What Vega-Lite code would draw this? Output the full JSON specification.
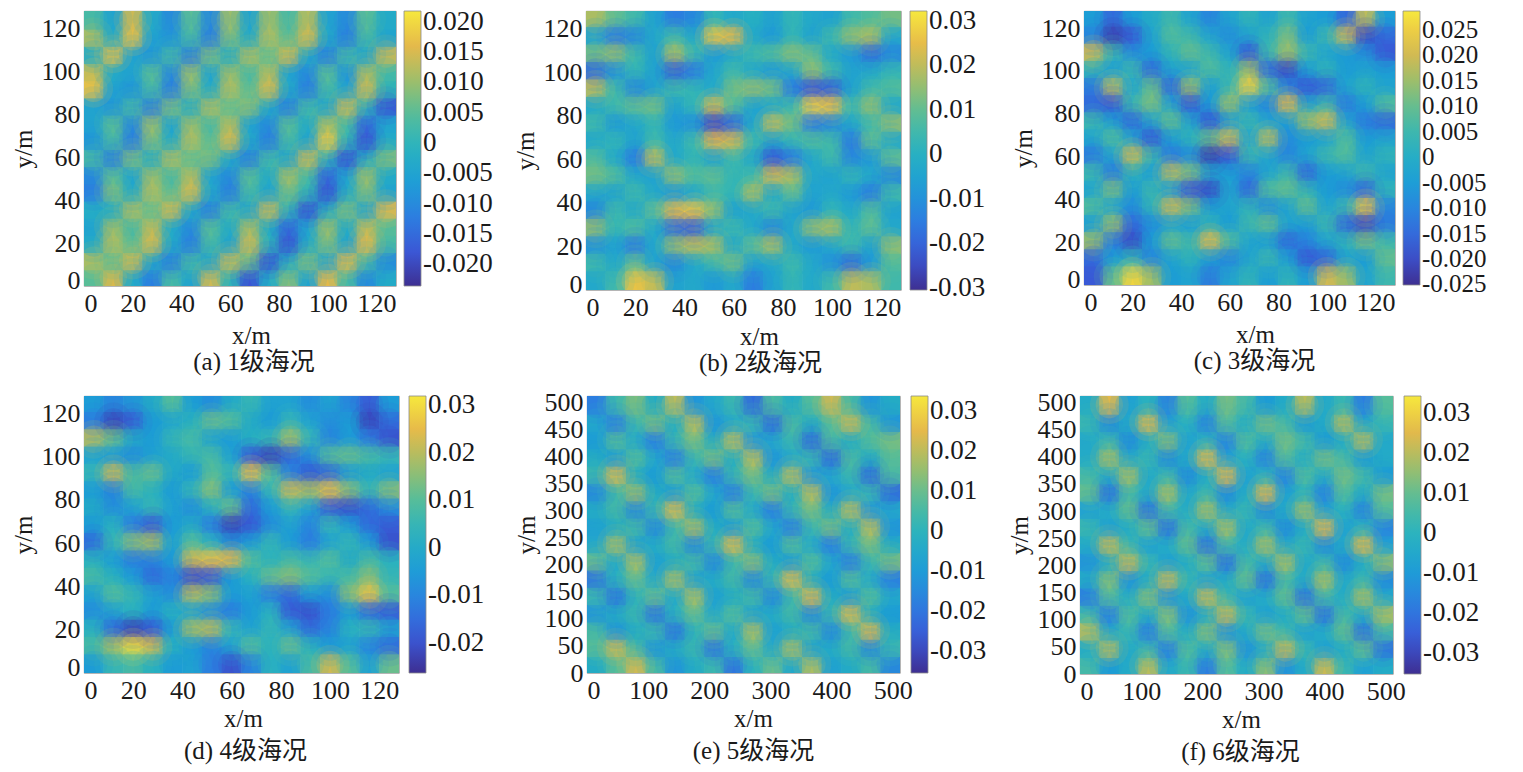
{
  "$schema": "https://vega.github.io/schema/vega-lite/v6.json",
  "background": "white",
  "padding": {"left": 10, "top": 10, "right": 5, "bottom": 2},
  "config": {
    "view": {"stroke": "#8a8a8a", "strokeWidth": 0.8},
    "axis": {"domain": false, "ticks": false, "grid": false, "labelFont": "Liberation Serif", "labelFontSize": 26, "labelColor": "#1a1a1a", "labelPadding": 4, "labelOverlap": false, "labelFlush": true, "titleFont": "Liberation Serif", "titleFontSize": 25, "titleFontWeight": "normal", "titleColor": "#1a1a1a"},
    "axisY": {"titlePadding": 5, "labelFlushOffset": 7},
    "legend": {"gradientThickness": 17, "labelFont": "Liberation Serif", "labelFontSize": 27, "labelColor": "#1a1a1a", "labelOffset": 4, "labelOverlap": false, "gradientStrokeColor": "#8a8a8a", "gradientStrokeWidth": 0.8, "padding": 0},
    "title": {"font": "Liberation Serif, Noto Sans CJK SC", "fontSize": 25, "fontWeight": "normal", "color": "#1a1a1a", "orient": "bottom", "anchor": "middle", "frame": "group"},
    "square": {"size": 400, "opacity": 1, "strokeWidth": 0},
    "circle": {"strokeWidth": 0}
  },
  "datasets": {
    "a": [
{"x":4,"y":4,"v":0.005},{"x":12,"y":4,"v":0.015},{"x":20,"y":4,"v":-0.003},{"x":28,"y":4,"v":-0.012},{"x":36,"y":4,"v":0.003},{"x":44,"y":4,"v":-0.005},{"x":52,"y":4,"v":0.014},{"x":60,"y":4,"v":0},{"x":68,"y":4,"v":-0.018},{"x":76,"y":4,"v":-0.003},{"x":84,"y":4,"v":0.008},{"x":92,"y":4,"v":-0.005},{"x":100,"y":4,"v":0.016},{"x":108,"y":4,"v":0.003},{"x":116,"y":4,"v":-0.01},{"x":124,"y":4,"v":-0.003},
{"x":4,"y":12,"v":0.012},{"x":12,"y":12,"v":0.005},{"x":20,"y":12,"v":0.015},{"x":28,"y":12,"v":-0.003},{"x":36,"y":12,"v":-0.012},{"x":44,"y":12,"v":0.003},{"x":52,"y":12,"v":-0.005},{"x":60,"y":12,"v":0.014},{"x":68,"y":12,"v":0.006},{"x":76,"y":12,"v":-0.018},{"x":84,"y":12,"v":-0.003},{"x":92,"y":12,"v":0.008},{"x":100,"y":12,"v":-0.005},{"x":108,"y":12,"v":0.016},{"x":116,"y":12,"v":0.003},{"x":124,"y":12,"v":-0.01},
{"x":4,"y":20,"v":-0.003},{"x":12,"y":20,"v":0.012},{"x":20,"y":20,"v":0.005},{"x":28,"y":20,"v":0.015},{"x":36,"y":20,"v":-0.003},{"x":44,"y":20,"v":-0.012},{"x":52,"y":20,"v":0.003},{"x":60,"y":20,"v":-0.005},{"x":68,"y":20,"v":0.014},{"x":76,"y":20,"v":0},{"x":84,"y":20,"v":-0.018},{"x":92,"y":20,"v":-0.003},{"x":100,"y":20,"v":0.008},{"x":108,"y":20,"v":-0.005},{"x":116,"y":20,"v":0.016},{"x":124,"y":20,"v":0.003},
{"x":4,"y":28,"v":-0.005},{"x":12,"y":28,"v":0.01},{"x":20,"y":28,"v":0.003},{"x":28,"y":28,"v":0.013},{"x":36,"y":28,"v":-0.003},{"x":44,"y":28,"v":-0.01},{"x":52,"y":28,"v":0.005},{"x":60,"y":28,"v":-0.003},{"x":68,"y":28,"v":0.011},{"x":76,"y":28,"v":-0.003},{"x":84,"y":28,"v":-0.015},{"x":92,"y":28,"v":-0.005},{"x":100,"y":28,"v":0.01},{"x":108,"y":28,"v":-0.003},{"x":116,"y":28,"v":0.013},{"x":124,"y":28,"v":0.005},
{"x":4,"y":36,"v":-0.002},{"x":12,"y":36,"v":-0.003},{"x":20,"y":36,"v":0.012},{"x":28,"y":36,"v":0.005},{"x":36,"y":36,"v":0.015},{"x":44,"y":36,"v":-0.003},{"x":52,"y":36,"v":-0.012},{"x":60,"y":36,"v":0.003},{"x":68,"y":36,"v":-0.005},{"x":76,"y":36,"v":0.014},{"x":84,"y":36,"v":0},{"x":92,"y":36,"v":-0.018},{"x":100,"y":36,"v":-0.003},{"x":108,"y":36,"v":0.008},{"x":116,"y":36,"v":-0.005},{"x":124,"y":36,"v":0.016},
{"x":4,"y":44,"v":-0.012},{"x":12,"y":44,"v":0.008},{"x":20,"y":44,"v":-0.003},{"x":28,"y":44,"v":0.012},{"x":36,"y":44,"v":0.005},{"x":44,"y":44,"v":0.015},{"x":52,"y":44,"v":-0.003},{"x":60,"y":44,"v":-0.012},{"x":68,"y":44,"v":0.003},{"x":76,"y":44,"v":-0.005},{"x":84,"y":44,"v":0.007},{"x":92,"y":44,"v":0},{"x":100,"y":44,"v":-0.018},{"x":108,"y":44,"v":-0.003},{"x":116,"y":44,"v":0.008},{"x":124,"y":44,"v":-0.005},
{"x":4,"y":52,"v":-0.01},{"x":12,"y":52,"v":0.005},{"x":20,"y":52,"v":-0.005},{"x":28,"y":52,"v":0.01},{"x":36,"y":52,"v":0.003},{"x":44,"y":52,"v":0.012},{"x":52,"y":52,"v":-0.005},{"x":60,"y":52,"v":-0.01},{"x":68,"y":52,"v":0.005},{"x":76,"y":52,"v":-0.003},{"x":84,"y":52,"v":0.011},{"x":92,"y":52,"v":0.003},{"x":100,"y":52,"v":-0.015},{"x":108,"y":52,"v":-0.005},{"x":116,"y":52,"v":0.01},{"x":124,"y":52,"v":-0.003},
{"x":4,"y":60,"v":0.003},{"x":12,"y":60,"v":-0.012},{"x":20,"y":60,"v":0.008},{"x":28,"y":60,"v":-0.003},{"x":36,"y":60,"v":0.012},{"x":44,"y":60,"v":0.005},{"x":52,"y":60,"v":0.008},{"x":60,"y":60,"v":-0.003},{"x":68,"y":60,"v":-0.012},{"x":76,"y":60,"v":0.003},{"x":84,"y":60,"v":-0.005},{"x":92,"y":60,"v":0.014},{"x":100,"y":60,"v":0},{"x":108,"y":60,"v":-0.018},{"x":116,"y":60,"v":-0.003},{"x":124,"y":60,"v":0.008},
{"x":4,"y":68,"v":-0.008},{"x":12,"y":68,"v":0.003},{"x":20,"y":68,"v":-0.012},{"x":28,"y":68,"v":0.008},{"x":36,"y":68,"v":-0.003},{"x":44,"y":68,"v":0.012},{"x":52,"y":68,"v":0.005},{"x":60,"y":68,"v":0.015},{"x":68,"y":68,"v":-0.003},{"x":76,"y":68,"v":-0.012},{"x":84,"y":68,"v":0.003},{"x":92,"y":68,"v":-0.005},{"x":100,"y":68,"v":0.018},{"x":108,"y":68,"v":0},{"x":116,"y":68,"v":-0.018},{"x":124,"y":68,"v":-0.003},
{"x":4,"y":76,"v":-0.005},{"x":12,"y":76,"v":0.005},{"x":20,"y":76,"v":-0.01},{"x":28,"y":76,"v":0.01},{"x":36,"y":76,"v":-0.005},{"x":44,"y":76,"v":0.01},{"x":52,"y":76,"v":0.003},{"x":60,"y":76,"v":0.012},{"x":68,"y":76,"v":-0.005},{"x":76,"y":76,"v":-0.01},{"x":84,"y":76,"v":0.005},{"x":92,"y":76,"v":-0.003},{"x":100,"y":76,"v":0.011},{"x":108,"y":76,"v":0.003},{"x":116,"y":76,"v":-0.015},{"x":124,"y":76,"v":-0.005},
{"x":4,"y":84,"v":-0.005},{"x":12,"y":84,"v":-0.008},{"x":20,"y":84,"v":0.003},{"x":28,"y":84,"v":-0.012},{"x":36,"y":84,"v":0.008},{"x":44,"y":84,"v":-0.003},{"x":52,"y":84,"v":0.012},{"x":60,"y":84,"v":0.005},{"x":68,"y":84,"v":0.009},{"x":76,"y":84,"v":-0.003},{"x":84,"y":84,"v":-0.012},{"x":92,"y":84,"v":0.003},{"x":100,"y":84,"v":-0.005},{"x":108,"y":84,"v":0.014},{"x":116,"y":84,"v":0},{"x":124,"y":84,"v":-0.018},
{"x":4,"y":92,"v":0.017},{"x":12,"y":92,"v":-0.005},{"x":20,"y":92,"v":-0.008},{"x":28,"y":92,"v":0.003},{"x":36,"y":92,"v":-0.012},{"x":44,"y":92,"v":0.008},{"x":52,"y":92,"v":-0.003},{"x":60,"y":92,"v":0.012},{"x":68,"y":92,"v":0.005},{"x":76,"y":92,"v":0.015},{"x":84,"y":92,"v":-0.003},{"x":92,"y":92,"v":-0.012},{"x":100,"y":92,"v":0.003},{"x":108,"y":92,"v":-0.005},{"x":116,"y":92,"v":0.014},{"x":124,"y":92,"v":0},
{"x":4,"y":100,"v":0.013},{"x":12,"y":100,"v":-0.003},{"x":20,"y":100,"v":-0.005},{"x":28,"y":100,"v":0.005},{"x":36,"y":100,"v":-0.01},{"x":44,"y":100,"v":0.01},{"x":52,"y":100,"v":-0.005},{"x":60,"y":100,"v":0.01},{"x":68,"y":100,"v":0.003},{"x":76,"y":100,"v":0.012},{"x":84,"y":100,"v":-0.005},{"x":92,"y":100,"v":-0.01},{"x":100,"y":100,"v":0.005},{"x":108,"y":100,"v":-0.008},{"x":116,"y":100,"v":0.011},{"x":124,"y":100,"v":0.003},
{"x":4,"y":108,"v":-0.003},{"x":12,"y":108,"v":0.017},{"x":20,"y":108,"v":-0.005},{"x":28,"y":108,"v":-0.008},{"x":36,"y":108,"v":0.003},{"x":44,"y":108,"v":-0.012},{"x":52,"y":108,"v":0.008},{"x":60,"y":108,"v":-0.003},{"x":68,"y":108,"v":0.012},{"x":76,"y":108,"v":0.005},{"x":84,"y":108,"v":0.015},{"x":92,"y":108,"v":-0.003},{"x":100,"y":108,"v":-0.012},{"x":108,"y":108,"v":0.003},{"x":116,"y":108,"v":-0.005},{"x":124,"y":108,"v":0.014},
{"x":4,"y":116,"v":0.012},{"x":12,"y":116,"v":-0.003},{"x":20,"y":116,"v":0.017},{"x":28,"y":116,"v":-0.005},{"x":36,"y":116,"v":-0.008},{"x":44,"y":116,"v":0.003},{"x":52,"y":116,"v":-0.012},{"x":60,"y":116,"v":0.008},{"x":68,"y":116,"v":-0.003},{"x":76,"y":116,"v":0.012},{"x":84,"y":116,"v":0.005},{"x":92,"y":116,"v":0.015},{"x":100,"y":116,"v":-0.003},{"x":108,"y":116,"v":-0.012},{"x":116,"y":116,"v":0.003},{"x":124,"y":116,"v":-0.005},
{"x":4,"y":124,"v":0.003},{"x":12,"y":124,"v":-0.005},{"x":20,"y":124,"v":0.014},{"x":28,"y":124,"v":-0.003},{"x":36,"y":124,"v":-0.01},{"x":44,"y":124,"v":0.005},{"x":52,"y":124,"v":-0.01},{"x":60,"y":124,"v":0.01},{"x":68,"y":124,"v":-0.005},{"x":76,"y":124,"v":0.01},{"x":84,"y":124,"v":0.003},{"x":92,"y":124,"v":0.012},{"x":100,"y":124,"v":-0.005},{"x":108,"y":124,"v":-0.01},{"x":116,"y":124,"v":0.005},{"x":124,"y":124,"v":-0.003}
    ],
    "b": [
{"x":4,"y":124,"v":0.018},{"x":12,"y":124,"v":0.01},{"x":20,"y":124,"v":0.005},{"x":28,"y":124,"v":-0.005},{"x":36,"y":124,"v":-0.015},{"x":44,"y":124,"v":-0.012},{"x":52,"y":124,"v":0.003},{"x":60,"y":124,"v":-0.003},{"x":68,"y":124,"v":0},{"x":76,"y":124,"v":-0.005},{"x":84,"y":124,"v":0.003},{"x":92,"y":124,"v":-0.003},{"x":100,"y":124,"v":-0.005},{"x":108,"y":124,"v":0.005},{"x":116,"y":124,"v":0.008},{"x":124,"y":124,"v":0.012},
{"x":4,"y":116,"v":-0.005},{"x":12,"y":116,"v":-0.015},{"x":20,"y":116,"v":-0.012},{"x":28,"y":116,"v":-0.003},{"x":36,"y":116,"v":0.005},{"x":44,"y":116,"v":-0.003},{"x":52,"y":116,"v":0.026},{"x":60,"y":116,"v":0.024},{"x":68,"y":116,"v":-0.003},{"x":76,"y":116,"v":-0.008},{"x":84,"y":116,"v":0.003},{"x":92,"y":116,"v":-0.005},{"x":100,"y":116,"v":0.005},{"x":108,"y":116,"v":0.015},{"x":116,"y":116,"v":0.018},{"x":124,"y":116,"v":-0.003},
{"x":4,"y":108,"v":0.012},{"x":12,"y":108,"v":0.015},{"x":20,"y":108,"v":0.005},{"x":28,"y":108,"v":-0.005},{"x":36,"y":108,"v":0.018},{"x":44,"y":108,"v":0.005},{"x":52,"y":108,"v":-0.008},{"x":60,"y":108,"v":-0.003},{"x":68,"y":108,"v":0.005},{"x":76,"y":108,"v":0.008},{"x":84,"y":108,"v":0.014},{"x":92,"y":108,"v":0.01},{"x":100,"y":108,"v":-0.003},{"x":108,"y":108,"v":-0.008},{"x":116,"y":108,"v":-0.018},{"x":124,"y":108,"v":-0.012},
{"x":4,"y":100,"v":-0.018},{"x":12,"y":100,"v":-0.01},{"x":20,"y":100,"v":0.003},{"x":28,"y":100,"v":-0.005},{"x":36,"y":100,"v":-0.02},{"x":44,"y":100,"v":-0.015},{"x":52,"y":100,"v":-0.003},{"x":60,"y":100,"v":0.005},{"x":68,"y":100,"v":-0.003},{"x":76,"y":100,"v":-0.008},{"x":84,"y":100,"v":-0.003},{"x":92,"y":100,"v":0.015},{"x":100,"y":100,"v":0.005},{"x":108,"y":100,"v":-0.005},{"x":116,"y":100,"v":-0.003},{"x":124,"y":100,"v":0.003},
{"x":4,"y":92,"v":0.02},{"x":12,"y":92,"v":0.005},{"x":20,"y":92,"v":-0.012},{"x":28,"y":92,"v":-0.005},{"x":36,"y":92,"v":0.005},{"x":44,"y":92,"v":0.003},{"x":52,"y":92,"v":-0.003},{"x":60,"y":92,"v":0.012},{"x":68,"y":92,"v":0.015},{"x":76,"y":92,"v":0.012},{"x":84,"y":92,"v":-0.015},{"x":92,"y":92,"v":-0.022},{"x":100,"y":92,"v":-0.02},{"x":108,"y":92,"v":-0.005},{"x":116,"y":92,"v":0.005},{"x":124,"y":92,"v":0.008},
{"x":4,"y":84,"v":-0.003},{"x":12,"y":84,"v":0.005},{"x":20,"y":84,"v":0.01},{"x":28,"y":84,"v":0.012},{"x":36,"y":84,"v":-0.005},{"x":44,"y":84,"v":0.003},{"x":52,"y":84,"v":0.022},{"x":60,"y":84,"v":0.008},{"x":68,"y":84,"v":-0.005},{"x":76,"y":84,"v":-0.003},{"x":84,"y":84,"v":0.005},{"x":92,"y":84,"v":0.028},{"x":100,"y":84,"v":0.026},{"x":108,"y":84,"v":0.005},{"x":116,"y":84,"v":0.015},{"x":124,"y":84,"v":-0.003},
{"x":4,"y":76,"v":0.005},{"x":12,"y":76,"v":-0.008},{"x":20,"y":76,"v":-0.003},{"x":28,"y":76,"v":0.003},{"x":36,"y":76,"v":-0.008},{"x":44,"y":76,"v":-0.01},{"x":52,"y":76,"v":-0.024},{"x":60,"y":76,"v":-0.018},{"x":68,"y":76,"v":-0.003},{"x":76,"y":76,"v":0.02},{"x":84,"y":76,"v":0.012},{"x":92,"y":76,"v":-0.015},{"x":100,"y":76,"v":-0.012},{"x":108,"y":76,"v":-0.003},{"x":116,"y":76,"v":0.005},{"x":124,"y":76,"v":0.015},
{"x":4,"y":68,"v":-0.003},{"x":12,"y":68,"v":0.003},{"x":20,"y":68,"v":-0.005},{"x":28,"y":68,"v":0.005},{"x":36,"y":68,"v":-0.003},{"x":44,"y":68,"v":0.005},{"x":52,"y":68,"v":0.024},{"x":60,"y":68,"v":0.022},{"x":68,"y":68,"v":0.005},{"x":76,"y":68,"v":-0.005},{"x":84,"y":68,"v":0.003},{"x":92,"y":68,"v":0.008},{"x":100,"y":68,"v":0.005},{"x":108,"y":68,"v":-0.015},{"x":116,"y":68,"v":0.01},{"x":124,"y":68,"v":-0.003},
{"x":4,"y":60,"v":0.008},{"x":12,"y":60,"v":-0.003},{"x":20,"y":60,"v":-0.015},{"x":28,"y":60,"v":0.02},{"x":36,"y":60,"v":-0.003},{"x":44,"y":60,"v":0.003},{"x":52,"y":60,"v":-0.005},{"x":60,"y":60,"v":0.005},{"x":68,"y":60,"v":-0.003},{"x":76,"y":60,"v":-0.022},{"x":84,"y":60,"v":-0.015},{"x":92,"y":60,"v":-0.003},{"x":100,"y":60,"v":0.005},{"x":108,"y":60,"v":-0.012},{"x":116,"y":60,"v":-0.008},{"x":124,"y":60,"v":0.01},
{"x":4,"y":52,"v":0.012},{"x":12,"y":52,"v":0.008},{"x":20,"y":52,"v":-0.003},{"x":28,"y":52,"v":-0.005},{"x":36,"y":52,"v":0.015},{"x":44,"y":52,"v":0.008},{"x":52,"y":52,"v":0.01},{"x":60,"y":52,"v":0.003},{"x":68,"y":52,"v":0.005},{"x":76,"y":52,"v":0.022},{"x":84,"y":52,"v":0.018},{"x":92,"y":52,"v":-0.003},{"x":100,"y":52,"v":-0.005},{"x":108,"y":52,"v":0.003},{"x":116,"y":52,"v":-0.003},{"x":124,"y":52,"v":-0.012},
{"x":4,"y":44,"v":-0.003},{"x":12,"y":44,"v":-0.005},{"x":20,"y":44,"v":0.005},{"x":28,"y":44,"v":-0.003},{"x":36,"y":44,"v":-0.008},{"x":44,"y":44,"v":-0.003},{"x":52,"y":44,"v":0.005},{"x":60,"y":44,"v":0.003},{"x":68,"y":44,"v":0.018},{"x":76,"y":44,"v":-0.003},{"x":84,"y":44,"v":0.01},{"x":92,"y":44,"v":-0.005},{"x":100,"y":44,"v":-0.003},{"x":108,"y":44,"v":-0.008},{"x":116,"y":44,"v":-0.015},{"x":124,"y":44,"v":0.005},
{"x":4,"y":36,"v":-0.012},{"x":12,"y":36,"v":0.005},{"x":20,"y":36,"v":-0.003},{"x":28,"y":36,"v":0.01},{"x":36,"y":36,"v":0.024},{"x":44,"y":36,"v":0.026},{"x":52,"y":36,"v":0.015},{"x":60,"y":36,"v":-0.005},{"x":68,"y":36,"v":-0.003},{"x":76,"y":36,"v":0.005},{"x":84,"y":36,"v":-0.005},{"x":92,"y":36,"v":-0.008},{"x":100,"y":36,"v":0.003},{"x":108,"y":36,"v":-0.003},{"x":116,"y":36,"v":0.008},{"x":124,"y":36,"v":-0.005},
{"x":4,"y":28,"v":0.015},{"x":12,"y":28,"v":0.003},{"x":20,"y":28,"v":0.008},{"x":28,"y":28,"v":-0.003},{"x":36,"y":28,"v":-0.018},{"x":44,"y":28,"v":-0.02},{"x":52,"y":28,"v":-0.003},{"x":60,"y":28,"v":0.005},{"x":68,"y":28,"v":-0.003},{"x":76,"y":28,"v":-0.012},{"x":84,"y":28,"v":-0.003},{"x":92,"y":28,"v":0.015},{"x":100,"y":28,"v":0.018},{"x":108,"y":28,"v":0.003},{"x":116,"y":28,"v":0.01},{"x":124,"y":28,"v":-0.003},
{"x":4,"y":20,"v":-0.01},{"x":12,"y":20,"v":-0.005},{"x":20,"y":20,"v":-0.015},{"x":28,"y":20,"v":-0.003},{"x":36,"y":20,"v":0.015},{"x":44,"y":20,"v":0.02},{"x":52,"y":20,"v":0.018},{"x":60,"y":20,"v":-0.003},{"x":68,"y":20,"v":0.01},{"x":76,"y":20,"v":0.018},{"x":84,"y":20,"v":-0.003},{"x":92,"y":20,"v":-0.008},{"x":100,"y":20,"v":-0.003},{"x":108,"y":20,"v":0.005},{"x":116,"y":20,"v":-0.005},{"x":124,"y":20,"v":0.015},
{"x":4,"y":12,"v":0.005},{"x":12,"y":12,"v":-0.003},{"x":20,"y":12,"v":0.01},{"x":28,"y":12,"v":-0.005},{"x":36,"y":12,"v":-0.012},{"x":44,"y":12,"v":-0.003},{"x":52,"y":12,"v":0.005},{"x":60,"y":12,"v":0.012},{"x":68,"y":12,"v":-0.005},{"x":76,"y":12,"v":-0.003},{"x":84,"y":12,"v":0.005},{"x":92,"y":12,"v":-0.003},{"x":100,"y":12,"v":-0.01},{"x":108,"y":12,"v":-0.018},{"x":116,"y":12,"v":-0.008},{"x":124,"y":12,"v":0.008},
{"x":4,"y":4,"v":-0.003},{"x":12,"y":4,"v":0.005},{"x":20,"y":4,"v":0.026},{"x":28,"y":4,"v":0.02},{"x":36,"y":4,"v":-0.005},{"x":44,"y":4,"v":-0.003},{"x":52,"y":4,"v":-0.008},{"x":60,"y":4,"v":-0.003},{"x":68,"y":4,"v":-0.015},{"x":76,"y":4,"v":-0.005},{"x":84,"y":4,"v":0.003},{"x":92,"y":4,"v":-0.003},{"x":100,"y":4,"v":0.005},{"x":108,"y":4,"v":0.02},{"x":116,"y":4,"v":0.018},{"x":124,"y":4,"v":0.005}
    ],
    "c": [
{"x":4,"y":124,"v":-0.005},{"x":12,"y":124,"v":-0.015},{"x":20,"y":124,"v":-0.005},{"x":28,"y":124,"v":0},{"x":36,"y":124,"v":0.005},{"x":44,"y":124,"v":-0.003},{"x":52,"y":124,"v":-0.01},{"x":60,"y":124,"v":-0.003},{"x":68,"y":124,"v":0.003},{"x":76,"y":124,"v":-0.003},{"x":84,"y":124,"v":0.005},{"x":92,"y":124,"v":-0.003},{"x":100,"y":124,"v":-0.005},{"x":108,"y":124,"v":-0.015},{"x":116,"y":124,"v":0.018},{"x":124,"y":124,"v":-0.005},
{"x":4,"y":116,"v":-0.01},{"x":12,"y":116,"v":-0.022},{"x":20,"y":116,"v":-0.018},{"x":28,"y":116,"v":-0.003},{"x":36,"y":116,"v":0.008},{"x":44,"y":116,"v":0.005},{"x":52,"y":116,"v":-0.003},{"x":60,"y":116,"v":-0.008},{"x":68,"y":116,"v":-0.003},{"x":76,"y":116,"v":0.003},{"x":84,"y":116,"v":0.012},{"x":92,"y":116,"v":-0.005},{"x":100,"y":116,"v":0.005},{"x":108,"y":116,"v":0.02},{"x":116,"y":116,"v":-0.02},{"x":124,"y":116,"v":-0.015},
{"x":4,"y":108,"v":0.02},{"x":12,"y":108,"v":0.005},{"x":20,"y":108,"v":-0.008},{"x":28,"y":108,"v":-0.005},{"x":36,"y":108,"v":0.003},{"x":44,"y":108,"v":0.01},{"x":52,"y":108,"v":0.005},{"x":60,"y":108,"v":-0.003},{"x":68,"y":108,"v":-0.018},{"x":76,"y":108,"v":0.005},{"x":84,"y":108,"v":0.015},{"x":92,"y":108,"v":0.005},{"x":100,"y":108,"v":-0.003},{"x":108,"y":108,"v":-0.005},{"x":116,"y":108,"v":-0.008},{"x":124,"y":108,"v":-0.018},
{"x":4,"y":100,"v":0.003},{"x":12,"y":100,"v":-0.005},{"x":20,"y":100,"v":0.005},{"x":28,"y":100,"v":-0.015},{"x":36,"y":100,"v":-0.003},{"x":44,"y":100,"v":-0.003},{"x":52,"y":100,"v":0.008},{"x":60,"y":100,"v":0.003},{"x":68,"y":100,"v":0.015},{"x":76,"y":100,"v":-0.015},{"x":84,"y":100,"v":-0.02},{"x":92,"y":100,"v":-0.005},{"x":100,"y":100,"v":0.003},{"x":108,"y":100,"v":-0.005},{"x":116,"y":100,"v":-0.003},{"x":124,"y":100,"v":-0.005},
{"x":4,"y":92,"v":-0.012},{"x":12,"y":92,"v":0.018},{"x":20,"y":92,"v":-0.003},{"x":28,"y":92,"v":0.01},{"x":36,"y":92,"v":-0.015},{"x":44,"y":92,"v":0.015},{"x":52,"y":92,"v":-0.005},{"x":60,"y":92,"v":0.005},{"x":68,"y":92,"v":0.025},{"x":76,"y":92,"v":0.008},{"x":84,"y":92,"v":-0.01},{"x":92,"y":92,"v":-0.018},{"x":100,"y":92,"v":-0.015},{"x":108,"y":92,"v":-0.003},{"x":116,"y":92,"v":0.003},{"x":124,"y":92,"v":-0.003},
{"x":4,"y":84,"v":-0.015},{"x":12,"y":84,"v":-0.018},{"x":20,"y":84,"v":0.005},{"x":28,"y":84,"v":0.012},{"x":36,"y":84,"v":-0.003},{"x":44,"y":84,"v":-0.018},{"x":52,"y":84,"v":-0.005},{"x":60,"y":84,"v":0.015},{"x":68,"y":84,"v":-0.005},{"x":76,"y":84,"v":-0.01},{"x":84,"y":84,"v":0.022},{"x":92,"y":84,"v":-0.003},{"x":100,"y":84,"v":0.005},{"x":108,"y":84,"v":-0.012},{"x":116,"y":84,"v":-0.005},{"x":124,"y":84,"v":0.008},
{"x":4,"y":76,"v":0.005},{"x":12,"y":76,"v":-0.005},{"x":20,"y":76,"v":-0.015},{"x":28,"y":76,"v":-0.003},{"x":36,"y":76,"v":0.01},{"x":44,"y":76,"v":-0.003},{"x":52,"y":76,"v":-0.018},{"x":60,"y":76,"v":-0.005},{"x":68,"y":76,"v":0.005},{"x":76,"y":76,"v":-0.003},{"x":84,"y":76,"v":-0.005},{"x":92,"y":76,"v":0.015},{"x":100,"y":76,"v":0.02},{"x":108,"y":76,"v":-0.003},{"x":116,"y":76,"v":-0.012},{"x":124,"y":76,"v":-0.015},
{"x":4,"y":68,"v":-0.003},{"x":12,"y":68,"v":0.008},{"x":20,"y":68,"v":-0.003},{"x":28,"y":68,"v":-0.018},{"x":36,"y":68,"v":-0.005},{"x":44,"y":68,"v":0.003},{"x":52,"y":68,"v":0.01},{"x":60,"y":68,"v":0.02},{"x":68,"y":68,"v":-0.003},{"x":76,"y":68,"v":0.018},{"x":84,"y":68,"v":-0.008},{"x":92,"y":68,"v":-0.005},{"x":100,"y":68,"v":-0.003},{"x":108,"y":68,"v":0.008},{"x":116,"y":68,"v":-0.005},{"x":124,"y":68,"v":-0.003},
{"x":4,"y":60,"v":-0.012},{"x":12,"y":60,"v":-0.003},{"x":20,"y":60,"v":0.02},{"x":28,"y":60,"v":0.005},{"x":36,"y":60,"v":-0.012},{"x":44,"y":60,"v":-0.008},{"x":52,"y":60,"v":-0.022},{"x":60,"y":60,"v":-0.018},{"x":68,"y":60,"v":0.005},{"x":76,"y":60,"v":-0.003},{"x":84,"y":60,"v":-0.01},{"x":92,"y":60,"v":-0.003},{"x":100,"y":60,"v":0.005},{"x":108,"y":60,"v":0.008},{"x":116,"y":60,"v":-0.003},{"x":124,"y":60,"v":0.003},
{"x":4,"y":52,"v":0.005},{"x":12,"y":52,"v":-0.012},{"x":20,"y":52,"v":0.003},{"x":28,"y":52,"v":-0.005},{"x":36,"y":52,"v":0.018},{"x":44,"y":52,"v":0.012},{"x":52,"y":52,"v":-0.003},{"x":60,"y":52,"v":-0.005},{"x":68,"y":52,"v":-0.01},{"x":76,"y":52,"v":-0.003},{"x":84,"y":52,"v":0.005},{"x":92,"y":52,"v":-0.015},{"x":100,"y":52,"v":-0.005},{"x":108,"y":52,"v":-0.003},{"x":116,"y":52,"v":0.005},{"x":124,"y":52,"v":-0.003},
{"x":4,"y":44,"v":-0.003},{"x":12,"y":44,"v":0.012},{"x":20,"y":44,"v":-0.005},{"x":28,"y":44,"v":0.005},{"x":36,"y":44,"v":-0.005},{"x":44,"y":44,"v":-0.018},{"x":52,"y":44,"v":-0.02},{"x":60,"y":44,"v":-0.003},{"x":68,"y":44,"v":-0.015},{"x":76,"y":44,"v":0.008},{"x":84,"y":44,"v":0.01},{"x":92,"y":44,"v":0.003},{"x":100,"y":44,"v":-0.005},{"x":108,"y":44,"v":-0.008},{"x":116,"y":44,"v":-0.015},{"x":124,"y":44,"v":0.003},
{"x":4,"y":36,"v":0.008},{"x":12,"y":36,"v":-0.003},{"x":20,"y":36,"v":-0.008},{"x":28,"y":36,"v":0.003},{"x":36,"y":36,"v":0.02},{"x":44,"y":36,"v":0.012},{"x":52,"y":36,"v":-0.005},{"x":60,"y":36,"v":-0.003},{"x":68,"y":36,"v":0.003},{"x":76,"y":36,"v":-0.008},{"x":84,"y":36,"v":-0.003},{"x":92,"y":36,"v":0.01},{"x":100,"y":36,"v":-0.003},{"x":108,"y":36,"v":0.005},{"x":116,"y":36,"v":0.024},{"x":124,"y":36,"v":-0.01},
{"x":4,"y":28,"v":-0.005},{"x":12,"y":28,"v":0.015},{"x":20,"y":28,"v":-0.015},{"x":28,"y":28,"v":-0.008},{"x":36,"y":28,"v":-0.003},{"x":44,"y":28,"v":-0.005},{"x":52,"y":28,"v":0.003},{"x":60,"y":28,"v":-0.005},{"x":68,"y":28,"v":0.005},{"x":76,"y":28,"v":0.01},{"x":84,"y":28,"v":-0.003},{"x":92,"y":28,"v":-0.005},{"x":100,"y":28,"v":0.005},{"x":108,"y":28,"v":-0.015},{"x":116,"y":28,"v":-0.02},{"x":124,"y":28,"v":-0.012},
{"x":4,"y":20,"v":0.015},{"x":12,"y":20,"v":-0.012},{"x":20,"y":20,"v":-0.02},{"x":28,"y":20,"v":-0.005},{"x":36,"y":20,"v":0.01},{"x":44,"y":20,"v":0.005},{"x":52,"y":20,"v":0.022},{"x":60,"y":20,"v":0.008},{"x":68,"y":20,"v":-0.003},{"x":76,"y":20,"v":-0.005},{"x":84,"y":20,"v":-0.015},{"x":92,"y":20,"v":-0.01},{"x":100,"y":20,"v":-0.003},{"x":108,"y":20,"v":0.003},{"x":116,"y":20,"v":0.012},{"x":124,"y":20,"v":0.005},
{"x":4,"y":12,"v":-0.015},{"x":12,"y":12,"v":-0.005},{"x":20,"y":12,"v":0.003},{"x":28,"y":12,"v":-0.01},{"x":36,"y":12,"v":-0.003},{"x":44,"y":12,"v":0.003},{"x":52,"y":12,"v":-0.005},{"x":60,"y":12,"v":-0.01},{"x":68,"y":12,"v":-0.003},{"x":76,"y":12,"v":0.005},{"x":84,"y":12,"v":-0.005},{"x":92,"y":12,"v":-0.018},{"x":100,"y":12,"v":-0.015},{"x":108,"y":12,"v":-0.003},{"x":116,"y":12,"v":-0.005},{"x":124,"y":12,"v":0.01},
{"x":4,"y":4,"v":-0.018},{"x":12,"y":4,"v":0.01},{"x":20,"y":4,"v":0.026},{"x":28,"y":4,"v":0.015},{"x":36,"y":4,"v":-0.005},{"x":44,"y":4,"v":-0.003},{"x":52,"y":4,"v":-0.012},{"x":60,"y":4,"v":-0.003},{"x":68,"y":4,"v":0.003},{"x":76,"y":4,"v":-0.005},{"x":84,"y":4,"v":0.003},{"x":92,"y":4,"v":-0.005},{"x":100,"y":4,"v":0.02},{"x":108,"y":4,"v":0.015},{"x":116,"y":4,"v":-0.003},{"x":124,"y":4,"v":0.005}
    ],
    "d": [
{"x":4,"y":124,"v":-0.005},{"x":12,"y":124,"v":-0.01},{"x":20,"y":124,"v":-0.006},{"x":28,"y":124,"v":0},{"x":36,"y":124,"v":0.01},{"x":44,"y":124,"v":-0.004},{"x":52,"y":124,"v":-0.008},{"x":60,"y":124,"v":0},{"x":68,"y":124,"v":0.005},{"x":76,"y":124,"v":-0.003},{"x":84,"y":124,"v":-0.003},{"x":92,"y":124,"v":-0.008},{"x":100,"y":124,"v":-0.003},{"x":108,"y":124,"v":-0.01},{"x":116,"y":124,"v":-0.018},{"x":124,"y":124,"v":-0.005},
{"x":4,"y":116,"v":-0.012},{"x":12,"y":116,"v":-0.022},{"x":20,"y":116,"v":-0.018},{"x":28,"y":116,"v":-0.005},{"x":36,"y":116,"v":-0.002},{"x":44,"y":116,"v":0.003},{"x":52,"y":116,"v":0.012},{"x":60,"y":116,"v":0.01},{"x":68,"y":116,"v":0},{"x":76,"y":116,"v":-0.005},{"x":84,"y":116,"v":0.005},{"x":92,"y":116,"v":-0.003},{"x":100,"y":116,"v":-0.008},{"x":108,"y":116,"v":-0.005},{"x":116,"y":116,"v":-0.022},{"x":124,"y":116,"v":-0.015},
{"x":4,"y":108,"v":0.02},{"x":12,"y":108,"v":0.012},{"x":20,"y":108,"v":0},{"x":28,"y":108,"v":-0.005},{"x":36,"y":108,"v":0.005},{"x":44,"y":108,"v":0.008},{"x":52,"y":108,"v":-0.003},{"x":60,"y":108,"v":-0.005},{"x":68,"y":108,"v":0.002},{"x":76,"y":108,"v":0.005},{"x":84,"y":108,"v":0.018},{"x":92,"y":108,"v":0.005},{"x":100,"y":108,"v":-0.01},{"x":108,"y":108,"v":-0.005},{"x":116,"y":108,"v":-0.012},{"x":124,"y":108,"v":-0.02},
{"x":4,"y":100,"v":-0.003},{"x":12,"y":100,"v":-0.005},{"x":20,"y":100,"v":-0.008},{"x":28,"y":100,"v":-0.003},{"x":36,"y":100,"v":0},{"x":44,"y":100,"v":0.005},{"x":52,"y":100,"v":0.008},{"x":60,"y":100,"v":-0.003},{"x":68,"y":100,"v":-0.018},{"x":76,"y":100,"v":-0.022},{"x":84,"y":100,"v":-0.015},{"x":92,"y":100,"v":-0.008},{"x":100,"y":100,"v":0.01},{"x":108,"y":100,"v":0.012},{"x":116,"y":100,"v":0.008},{"x":124,"y":100,"v":0.005},
{"x":4,"y":92,"v":0.005},{"x":12,"y":92,"v":0.022},{"x":20,"y":92,"v":0.008},{"x":28,"y":92,"v":0.012},{"x":36,"y":92,"v":0},{"x":44,"y":92,"v":-0.005},{"x":52,"y":92,"v":0.01},{"x":60,"y":92,"v":0.005},{"x":68,"y":92,"v":0.026},{"x":76,"y":92,"v":0.01},{"x":84,"y":92,"v":-0.01},{"x":92,"y":92,"v":-0.018},{"x":100,"y":92,"v":-0.015},{"x":108,"y":92,"v":-0.005},{"x":116,"y":92,"v":0},{"x":124,"y":92,"v":-0.003},
{"x":4,"y":84,"v":-0.005},{"x":12,"y":84,"v":-0.01},{"x":20,"y":84,"v":0.008},{"x":28,"y":84,"v":0.003},{"x":36,"y":84,"v":-0.005},{"x":44,"y":84,"v":0.005},{"x":52,"y":84,"v":0.015},{"x":60,"y":84,"v":-0.005},{"x":68,"y":84,"v":-0.01},{"x":76,"y":84,"v":0.005},{"x":84,"y":84,"v":0.022},{"x":92,"y":84,"v":0.018},{"x":100,"y":84,"v":0.026},{"x":108,"y":84,"v":0.015},{"x":116,"y":84,"v":0.005},{"x":124,"y":84,"v":0.015},
{"x":4,"y":76,"v":0},{"x":12,"y":76,"v":-0.008},{"x":20,"y":76,"v":-0.003},{"x":28,"y":76,"v":0.005},{"x":36,"y":76,"v":-0.003},{"x":44,"y":76,"v":-0.008},{"x":52,"y":76,"v":0.003},{"x":60,"y":76,"v":0.012},{"x":68,"y":76,"v":-0.015},{"x":76,"y":76,"v":-0.005},{"x":84,"y":76,"v":0.005},{"x":92,"y":76,"v":-0.003},{"x":100,"y":76,"v":-0.018},{"x":108,"y":76,"v":-0.02},{"x":116,"y":76,"v":-0.015},{"x":124,"y":76,"v":-0.008},
{"x":4,"y":68,"v":-0.005},{"x":12,"y":68,"v":0.003},{"x":20,"y":68,"v":-0.012},{"x":28,"y":68,"v":-0.018},{"x":36,"y":68,"v":-0.005},{"x":44,"y":68,"v":0},{"x":52,"y":68,"v":-0.012},{"x":60,"y":68,"v":-0.022},{"x":68,"y":68,"v":-0.018},{"x":76,"y":68,"v":-0.008},{"x":84,"y":68,"v":-0.003},{"x":92,"y":68,"v":-0.01},{"x":100,"y":68,"v":0.005},{"x":108,"y":68,"v":-0.005},{"x":116,"y":68,"v":-0.015},{"x":124,"y":68,"v":-0.018},
{"x":4,"y":60,"v":-0.015},{"x":12,"y":60,"v":0.005},{"x":20,"y":60,"v":0.015},{"x":28,"y":60,"v":0.018},{"x":36,"y":60,"v":-0.003},{"x":44,"y":60,"v":0.01},{"x":52,"y":60,"v":0.003},{"x":60,"y":60,"v":-0.008},{"x":68,"y":60,"v":-0.005},{"x":76,"y":60,"v":0.005},{"x":84,"y":60,"v":-0.005},{"x":92,"y":60,"v":-0.012},{"x":100,"y":60,"v":-0.003},{"x":108,"y":60,"v":0.005},{"x":116,"y":60,"v":-0.005},{"x":124,"y":60,"v":-0.02},
{"x":4,"y":52,"v":0.003},{"x":12,"y":52,"v":-0.005},{"x":20,"y":52,"v":-0.012},{"x":28,"y":52,"v":-0.01},{"x":36,"y":52,"v":-0.005},{"x":44,"y":52,"v":0.022},{"x":52,"y":52,"v":0.026},{"x":60,"y":52,"v":0.024},{"x":68,"y":52,"v":0.01},{"x":76,"y":52,"v":0.003},{"x":84,"y":52,"v":0.008},{"x":92,"y":52,"v":0.005},{"x":100,"y":52,"v":0.01},{"x":108,"y":52,"v":0},{"x":116,"y":52,"v":0.008},{"x":124,"y":52,"v":0.003},
{"x":4,"y":44,"v":0.008},{"x":12,"y":44,"v":0.003},{"x":20,"y":44,"v":-0.005},{"x":28,"y":44,"v":-0.015},{"x":36,"y":44,"v":-0.01},{"x":44,"y":44,"v":-0.02},{"x":52,"y":44,"v":-0.018},{"x":60,"y":44,"v":-0.005},{"x":68,"y":44,"v":0.003},{"x":76,"y":44,"v":0.012},{"x":84,"y":44,"v":0.015},{"x":92,"y":44,"v":0.01},{"x":100,"y":44,"v":0.005},{"x":108,"y":44,"v":0.008},{"x":116,"y":44,"v":0.015},{"x":124,"y":44,"v":0.005},
{"x":4,"y":36,"v":-0.003},{"x":12,"y":36,"v":0.01},{"x":20,"y":36,"v":0.005},{"x":28,"y":36,"v":-0.003},{"x":36,"y":36,"v":-0.008},{"x":44,"y":36,"v":0.02},{"x":52,"y":36,"v":0.015},{"x":60,"y":36,"v":-0.005},{"x":68,"y":36,"v":-0.003},{"x":76,"y":36,"v":-0.012},{"x":84,"y":36,"v":-0.015},{"x":92,"y":36,"v":-0.005},{"x":100,"y":36,"v":-0.008},{"x":108,"y":36,"v":0.015},{"x":116,"y":36,"v":0.026},{"x":124,"y":36,"v":0.01},
{"x":4,"y":28,"v":-0.008},{"x":12,"y":28,"v":-0.003},{"x":20,"y":28,"v":0.003},{"x":28,"y":28,"v":-0.005},{"x":36,"y":28,"v":0.003},{"x":44,"y":28,"v":-0.003},{"x":52,"y":28,"v":-0.008},{"x":60,"y":28,"v":-0.012},{"x":68,"y":28,"v":-0.005},{"x":76,"y":28,"v":0.003},{"x":84,"y":28,"v":-0.018},{"x":92,"y":28,"v":-0.02},{"x":100,"y":28,"v":-0.012},{"x":108,"y":28,"v":-0.005},{"x":116,"y":28,"v":-0.015},{"x":124,"y":28,"v":-0.018},
{"x":4,"y":20,"v":0.003},{"x":12,"y":20,"v":-0.015},{"x":20,"y":20,"v":-0.022},{"x":28,"y":20,"v":-0.018},{"x":36,"y":20,"v":-0.005},{"x":44,"y":20,"v":0.018},{"x":52,"y":20,"v":0.02},{"x":60,"y":20,"v":0.005},{"x":68,"y":20,"v":-0.003},{"x":76,"y":20,"v":0.005},{"x":84,"y":20,"v":-0.003},{"x":92,"y":20,"v":-0.015},{"x":100,"y":20,"v":-0.01},{"x":108,"y":20,"v":0.003},{"x":116,"y":20,"v":0.005},{"x":124,"y":20,"v":-0.003},
{"x":4,"y":12,"v":0.008},{"x":12,"y":12,"v":0.018},{"x":20,"y":12,"v":0.03},{"x":28,"y":12,"v":0.022},{"x":36,"y":12,"v":0.003},{"x":44,"y":12,"v":-0.005},{"x":52,"y":12,"v":-0.01},{"x":60,"y":12,"v":-0.003},{"x":68,"y":12,"v":0.01},{"x":76,"y":12,"v":0.003},{"x":84,"y":12,"v":0.012},{"x":92,"y":12,"v":0.003},{"x":100,"y":12,"v":-0.005},{"x":108,"y":12,"v":-0.003},{"x":116,"y":12,"v":-0.01},{"x":124,"y":12,"v":-0.015},
{"x":4,"y":4,"v":-0.005},{"x":12,"y":4,"v":0.005},{"x":20,"y":4,"v":0.008},{"x":28,"y":4,"v":0.003},{"x":36,"y":4,"v":-0.005},{"x":44,"y":4,"v":-0.003},{"x":52,"y":4,"v":-0.012},{"x":60,"y":4,"v":-0.02},{"x":68,"y":4,"v":-0.01},{"x":76,"y":4,"v":0.003},{"x":84,"y":4,"v":-0.003},{"x":92,"y":4,"v":0.008},{"x":100,"y":4,"v":0.022},{"x":108,"y":4,"v":0.01},{"x":116,"y":4,"v":-0.003},{"x":124,"y":4,"v":0.012}
    ],
    "e": [
{"x":16,"y":16,"v":-0.003},{"x":48,"y":16,"v":0.008},{"x":80,"y":16,"v":0.022},{"x":112,"y":16,"v":0.005},{"x":144,"y":16,"v":-0.012},{"x":176,"y":16,"v":-0.003},{"x":208,"y":16,"v":0.003},{"x":240,"y":16,"v":-0.02},{"x":272,"y":16,"v":0},{"x":304,"y":16,"v":0.01},{"x":336,"y":16,"v":-0.005},{"x":368,"y":16,"v":0.018},{"x":400,"y":16,"v":-0.008},{"x":432,"y":16,"v":-0.003},{"x":464,"y":16,"v":0.005},{"x":496,"y":16,"v":-0.015},
{"x":16,"y":48,"v":0.008},{"x":48,"y":48,"v":0.022},{"x":80,"y":48,"v":0.005},{"x":112,"y":48,"v":-0.012},{"x":144,"y":48,"v":-0.003},{"x":176,"y":48,"v":0.003},{"x":208,"y":48,"v":-0.02},{"x":240,"y":48,"v":0},{"x":272,"y":48,"v":0.01},{"x":304,"y":48,"v":-0.005},{"x":336,"y":48,"v":0.018},{"x":368,"y":48,"v":-0.008},{"x":400,"y":48,"v":-0.003},{"x":432,"y":48,"v":0.005},{"x":464,"y":48,"v":-0.015},{"x":496,"y":48,"v":0.003},
{"x":16,"y":80,"v":0.005},{"x":48,"y":80,"v":-0.012},{"x":80,"y":80,"v":-0.003},{"x":112,"y":80,"v":0.003},{"x":144,"y":80,"v":-0.02},{"x":176,"y":80,"v":0},{"x":208,"y":80,"v":0.01},{"x":240,"y":80,"v":-0.005},{"x":272,"y":80,"v":0.018},{"x":304,"y":80,"v":-0.008},{"x":336,"y":80,"v":-0.003},{"x":368,"y":80,"v":0.005},{"x":400,"y":80,"v":-0.015},{"x":432,"y":80,"v":0.003},{"x":464,"y":80,"v":0.024},{"x":496,"y":80,"v":-0.003},
{"x":16,"y":112,"v":-0.012},{"x":48,"y":112,"v":-0.003},{"x":80,"y":112,"v":0.003},{"x":112,"y":112,"v":-0.02},{"x":144,"y":112,"v":0},{"x":176,"y":112,"v":0.01},{"x":208,"y":112,"v":-0.005},{"x":240,"y":112,"v":0.008},{"x":272,"y":112,"v":-0.008},{"x":304,"y":112,"v":-0.003},{"x":336,"y":112,"v":0.005},{"x":368,"y":112,"v":-0.015},{"x":400,"y":112,"v":0.003},{"x":432,"y":112,"v":0.024},{"x":464,"y":112,"v":-0.003},{"x":496,"y":112,"v":-0.01},
{"x":16,"y":144,"v":0.003},{"x":48,"y":144,"v":-0.02},{"x":80,"y":144,"v":0},{"x":112,"y":144,"v":0.01},{"x":144,"y":144,"v":-0.005},{"x":176,"y":144,"v":0.018},{"x":208,"y":144,"v":-0.008},{"x":240,"y":144,"v":-0.003},{"x":272,"y":144,"v":0.005},{"x":304,"y":144,"v":-0.015},{"x":336,"y":144,"v":0.003},{"x":368,"y":144,"v":0.024},{"x":400,"y":144,"v":-0.003},{"x":432,"y":144,"v":-0.01},{"x":464,"y":144,"v":0.008},{"x":496,"y":144,"v":-0.005},
{"x":16,"y":176,"v":-0.02},{"x":48,"y":176,"v":0},{"x":80,"y":176,"v":0.01},{"x":112,"y":176,"v":-0.005},{"x":144,"y":176,"v":0.018},{"x":176,"y":176,"v":-0.008},{"x":208,"y":176,"v":-0.003},{"x":240,"y":176,"v":0.005},{"x":272,"y":176,"v":-0.015},{"x":304,"y":176,"v":0.003},{"x":336,"y":176,"v":0.024},{"x":368,"y":176,"v":-0.003},{"x":400,"y":176,"v":-0.01},{"x":432,"y":176,"v":0.008},{"x":464,"y":176,"v":-0.005},{"x":496,"y":176,"v":-0.018},
{"x":16,"y":208,"v":0.01},{"x":48,"y":208,"v":-0.005},{"x":80,"y":208,"v":0.018},{"x":112,"y":208,"v":-0.008},{"x":144,"y":208,"v":-0.003},{"x":176,"y":208,"v":0.005},{"x":208,"y":208,"v":-0.015},{"x":240,"y":208,"v":0.003},{"x":272,"y":208,"v":0.014},{"x":304,"y":208,"v":-0.003},{"x":336,"y":208,"v":-0.01},{"x":368,"y":208,"v":0.008},{"x":400,"y":208,"v":-0.005},{"x":432,"y":208,"v":-0.018},{"x":464,"y":208,"v":0.003},{"x":496,"y":208,"v":0.012},
{"x":16,"y":240,"v":-0.005},{"x":48,"y":240,"v":0.018},{"x":80,"y":240,"v":-0.008},{"x":112,"y":240,"v":-0.003},{"x":144,"y":240,"v":0.005},{"x":176,"y":240,"v":-0.015},{"x":208,"y":240,"v":0.003},{"x":240,"y":240,"v":0.024},{"x":272,"y":240,"v":-0.003},{"x":304,"y":240,"v":-0.01},{"x":336,"y":240,"v":0.008},{"x":368,"y":240,"v":-0.005},{"x":400,"y":240,"v":-0.018},{"x":432,"y":240,"v":0.003},{"x":464,"y":240,"v":0.012},{"x":496,"y":240,"v":-0.003},
{"x":16,"y":272,"v":-0.008},{"x":48,"y":272,"v":-0.003},{"x":80,"y":272,"v":0.005},{"x":112,"y":272,"v":-0.015},{"x":144,"y":272,"v":0.003},{"x":176,"y":272,"v":0.018},{"x":208,"y":272,"v":-0.003},{"x":240,"y":272,"v":-0.01},{"x":272,"y":272,"v":0.008},{"x":304,"y":272,"v":-0.005},{"x":336,"y":272,"v":-0.018},{"x":368,"y":272,"v":0.003},{"x":400,"y":272,"v":0.012},{"x":432,"y":272,"v":-0.003},{"x":464,"y":272,"v":0.02},{"x":496,"y":272,"v":-0.012},
{"x":16,"y":304,"v":-0.003},{"x":48,"y":304,"v":0.005},{"x":80,"y":304,"v":-0.015},{"x":112,"y":304,"v":0.003},{"x":144,"y":304,"v":0.024},{"x":176,"y":304,"v":-0.003},{"x":208,"y":304,"v":-0.01},{"x":240,"y":304,"v":0.008},{"x":272,"y":304,"v":-0.005},{"x":304,"y":304,"v":-0.018},{"x":336,"y":304,"v":0.003},{"x":368,"y":304,"v":0.012},{"x":400,"y":304,"v":-0.003},{"x":432,"y":304,"v":0.02},{"x":464,"y":304,"v":-0.012},{"x":496,"y":304,"v":-0.005},
{"x":16,"y":336,"v":-0.015},{"x":48,"y":336,"v":0.003},{"x":80,"y":336,"v":0.016},{"x":112,"y":336,"v":-0.003},{"x":144,"y":336,"v":-0.01},{"x":176,"y":336,"v":0.008},{"x":208,"y":336,"v":-0.005},{"x":240,"y":336,"v":-0.018},{"x":272,"y":336,"v":0.003},{"x":304,"y":336,"v":0.012},{"x":336,"y":336,"v":-0.003},{"x":368,"y":336,"v":0.02},{"x":400,"y":336,"v":-0.012},{"x":432,"y":336,"v":-0.005},{"x":464,"y":336,"v":0.003},{"x":496,"y":336,"v":-0.022},
{"x":16,"y":368,"v":0.003},{"x":48,"y":368,"v":0.024},{"x":80,"y":368,"v":-0.003},{"x":112,"y":368,"v":-0.01},{"x":144,"y":368,"v":0.008},{"x":176,"y":368,"v":-0.005},{"x":208,"y":368,"v":-0.018},{"x":240,"y":368,"v":0.003},{"x":272,"y":368,"v":0.012},{"x":304,"y":368,"v":-0.003},{"x":336,"y":368,"v":0.02},{"x":368,"y":368,"v":-0.012},{"x":400,"y":368,"v":-0.005},{"x":432,"y":368,"v":0.003},{"x":464,"y":368,"v":-0.022},{"x":496,"y":368,"v":0.006},
{"x":16,"y":400,"v":-0.003},{"x":48,"y":400,"v":-0.01},{"x":80,"y":400,"v":0.008},{"x":112,"y":400,"v":-0.005},{"x":144,"y":400,"v":-0.018},{"x":176,"y":400,"v":0.003},{"x":208,"y":400,"v":0.012},{"x":240,"y":400,"v":-0.003},{"x":272,"y":400,"v":0.02},{"x":304,"y":400,"v":-0.012},{"x":336,"y":400,"v":-0.005},{"x":368,"y":400,"v":0.003},{"x":400,"y":400,"v":-0.022},{"x":432,"y":400,"v":0.006},{"x":464,"y":400,"v":-0.003},{"x":496,"y":400,"v":0.008},
{"x":16,"y":432,"v":-0.01},{"x":48,"y":432,"v":0.008},{"x":80,"y":432,"v":-0.005},{"x":112,"y":432,"v":-0.018},{"x":144,"y":432,"v":0.003},{"x":176,"y":432,"v":0.012},{"x":208,"y":432,"v":-0.003},{"x":240,"y":432,"v":0.02},{"x":272,"y":432,"v":-0.012},{"x":304,"y":432,"v":-0.005},{"x":336,"y":432,"v":0.003},{"x":368,"y":432,"v":-0.022},{"x":400,"y":432,"v":0.006},{"x":432,"y":432,"v":-0.003},{"x":464,"y":432,"v":0.008},{"x":496,"y":432,"v":0.012},
{"x":16,"y":464,"v":-0.005},{"x":48,"y":464,"v":-0.018},{"x":80,"y":464,"v":0.003},{"x":112,"y":464,"v":0.012},{"x":144,"y":464,"v":-0.003},{"x":176,"y":464,"v":0.02},{"x":208,"y":464,"v":-0.012},{"x":240,"y":464,"v":-0.005},{"x":272,"y":464,"v":0.003},{"x":304,"y":464,"v":-0.022},{"x":336,"y":464,"v":0.006},{"x":368,"y":464,"v":-0.003},{"x":400,"y":464,"v":0.008},{"x":432,"y":464,"v":0.022},{"x":464,"y":464,"v":0.005},{"x":496,"y":464,"v":-0.012},
{"x":16,"y":496,"v":-0.018},{"x":48,"y":496,"v":0.003},{"x":80,"y":496,"v":0.012},{"x":112,"y":496,"v":-0.003},{"x":144,"y":496,"v":0.02},{"x":176,"y":496,"v":-0.012},{"x":208,"y":496,"v":-0.005},{"x":240,"y":496,"v":0.003},{"x":272,"y":496,"v":-0.022},{"x":304,"y":496,"v":0.006},{"x":336,"y":496,"v":-0.003},{"x":368,"y":496,"v":0.008},{"x":400,"y":496,"v":0.022},{"x":432,"y":496,"v":0.005},{"x":464,"y":496,"v":-0.012},{"x":496,"y":496,"v":-0.003}
    ],
    "f": [
{"x":16,"y":16,"v":0.005},{"x":48,"y":16,"v":-0.01},{"x":80,"y":16,"v":-0.003},{"x":112,"y":16,"v":0.02},{"x":144,"y":16,"v":-0.005},{"x":176,"y":16,"v":0.003},{"x":208,"y":16,"v":-0.018},{"x":240,"y":16,"v":0.008},{"x":272,"y":16,"v":-0.003},{"x":304,"y":16,"v":0.014},{"x":336,"y":16,"v":-0.012},{"x":368,"y":16,"v":-0.003},{"x":400,"y":16,"v":0.022},{"x":432,"y":16,"v":0.003},{"x":464,"y":16,"v":-0.008},{"x":496,"y":16,"v":-0.003},
{"x":16,"y":48,"v":-0.003},{"x":48,"y":48,"v":0.02},{"x":80,"y":48,"v":-0.005},{"x":112,"y":48,"v":0.003},{"x":144,"y":48,"v":-0.018},{"x":176,"y":48,"v":0.008},{"x":208,"y":48,"v":-0.003},{"x":240,"y":48,"v":0.014},{"x":272,"y":48,"v":-0.012},{"x":304,"y":48,"v":-0.003},{"x":336,"y":48,"v":0.022},{"x":368,"y":48,"v":0.003},{"x":400,"y":48,"v":-0.008},{"x":432,"y":48,"v":-0.003},{"x":464,"y":48,"v":0.01},{"x":496,"y":48,"v":-0.02},
{"x":16,"y":80,"v":0.02},{"x":48,"y":80,"v":-0.005},{"x":80,"y":80,"v":0.003},{"x":112,"y":80,"v":-0.018},{"x":144,"y":80,"v":0.008},{"x":176,"y":80,"v":-0.003},{"x":208,"y":80,"v":0.014},{"x":240,"y":80,"v":-0.012},{"x":272,"y":80,"v":-0.003},{"x":304,"y":80,"v":0.012},{"x":336,"y":80,"v":0.003},{"x":368,"y":80,"v":-0.008},{"x":400,"y":80,"v":-0.003},{"x":432,"y":80,"v":0.01},{"x":464,"y":80,"v":-0.02},{"x":496,"y":80,"v":0.005},
{"x":16,"y":112,"v":0.003},{"x":48,"y":112,"v":-0.018},{"x":80,"y":112,"v":0.008},{"x":112,"y":112,"v":-0.003},{"x":144,"y":112,"v":0.014},{"x":176,"y":112,"v":-0.012},{"x":208,"y":112,"v":-0.003},{"x":240,"y":112,"v":0.022},{"x":272,"y":112,"v":0.003},{"x":304,"y":112,"v":-0.008},{"x":336,"y":112,"v":-0.003},{"x":368,"y":112,"v":0.01},{"x":400,"y":112,"v":-0.02},{"x":432,"y":112,"v":0.005},{"x":464,"y":112,"v":-0.003},{"x":496,"y":112,"v":0.018},
{"x":16,"y":144,"v":-0.018},{"x":48,"y":144,"v":0.008},{"x":80,"y":144,"v":-0.003},{"x":112,"y":144,"v":0.014},{"x":144,"y":144,"v":-0.012},{"x":176,"y":144,"v":-0.003},{"x":208,"y":144,"v":0.022},{"x":240,"y":144,"v":0.003},{"x":272,"y":144,"v":-0.008},{"x":304,"y":144,"v":-0.003},{"x":336,"y":144,"v":0.01},{"x":368,"y":144,"v":-0.02},{"x":400,"y":144,"v":0.005},{"x":432,"y":144,"v":-0.003},{"x":464,"y":144,"v":0.018},{"x":496,"y":144,"v":-0.005},
{"x":16,"y":176,"v":-0.003},{"x":48,"y":176,"v":0.014},{"x":80,"y":176,"v":-0.012},{"x":112,"y":176,"v":-0.003},{"x":144,"y":176,"v":0.022},{"x":176,"y":176,"v":0.003},{"x":208,"y":176,"v":-0.008},{"x":240,"y":176,"v":-0.003},{"x":272,"y":176,"v":0.01},{"x":304,"y":176,"v":-0.02},{"x":336,"y":176,"v":0.005},{"x":368,"y":176,"v":-0.003},{"x":400,"y":176,"v":0.018},{"x":432,"y":176,"v":-0.005},{"x":464,"y":176,"v":0.003},{"x":496,"y":176,"v":-0.014},
{"x":16,"y":208,"v":-0.012},{"x":48,"y":208,"v":-0.003},{"x":80,"y":208,"v":0.022},{"x":112,"y":208,"v":0.003},{"x":144,"y":208,"v":-0.008},{"x":176,"y":208,"v":-0.003},{"x":208,"y":208,"v":0.01},{"x":240,"y":208,"v":-0.02},{"x":272,"y":208,"v":0.005},{"x":304,"y":208,"v":-0.003},{"x":336,"y":208,"v":0.018},{"x":368,"y":208,"v":-0.005},{"x":400,"y":208,"v":0.003},{"x":432,"y":208,"v":-0.014},{"x":464,"y":208,"v":-0.003},{"x":496,"y":208,"v":0.015},
{"x":16,"y":240,"v":-0.003},{"x":48,"y":240,"v":0.022},{"x":80,"y":240,"v":0.003},{"x":112,"y":240,"v":-0.008},{"x":144,"y":240,"v":-0.003},{"x":176,"y":240,"v":0.01},{"x":208,"y":240,"v":-0.02},{"x":240,"y":240,"v":0.005},{"x":272,"y":240,"v":-0.003},{"x":304,"y":240,"v":0.018},{"x":336,"y":240,"v":-0.005},{"x":368,"y":240,"v":0.003},{"x":400,"y":240,"v":-0.014},{"x":432,"y":240,"v":-0.003},{"x":464,"y":240,"v":0.025},{"x":496,"y":240,"v":-0.008},
{"x":16,"y":272,"v":0.003},{"x":48,"y":272,"v":-0.008},{"x":80,"y":272,"v":-0.003},{"x":112,"y":272,"v":0.01},{"x":144,"y":272,"v":-0.02},{"x":176,"y":272,"v":0.005},{"x":208,"y":272,"v":-0.003},{"x":240,"y":272,"v":0.018},{"x":272,"y":272,"v":-0.005},{"x":304,"y":272,"v":0.003},{"x":336,"y":272,"v":-0.014},{"x":368,"y":272,"v":-0.003},{"x":400,"y":272,"v":0.025},{"x":432,"y":272,"v":-0.008},{"x":464,"y":272,"v":0},{"x":496,"y":272,"v":-0.016},
{"x":16,"y":304,"v":-0.008},{"x":48,"y":304,"v":-0.003},{"x":80,"y":304,"v":0.01},{"x":112,"y":304,"v":-0.02},{"x":144,"y":304,"v":0.005},{"x":176,"y":304,"v":-0.003},{"x":208,"y":304,"v":0.018},{"x":240,"y":304,"v":-0.005},{"x":272,"y":304,"v":0.003},{"x":304,"y":304,"v":-0.014},{"x":336,"y":304,"v":-0.003},{"x":368,"y":304,"v":0.017},{"x":400,"y":304,"v":-0.008},{"x":432,"y":304,"v":0},{"x":464,"y":304,"v":-0.016},{"x":496,"y":304,"v":0.008},
{"x":16,"y":336,"v":0.01},{"x":48,"y":336,"v":-0.02},{"x":80,"y":336,"v":0.005},{"x":112,"y":336,"v":-0.003},{"x":144,"y":336,"v":0.018},{"x":176,"y":336,"v":-0.005},{"x":208,"y":336,"v":0.003},{"x":240,"y":336,"v":-0.014},{"x":272,"y":336,"v":-0.003},{"x":304,"y":336,"v":0.025},{"x":336,"y":336,"v":-0.008},{"x":368,"y":336,"v":0},{"x":400,"y":336,"v":-0.016},{"x":432,"y":336,"v":0.008},{"x":464,"y":336,"v":-0.003},{"x":496,"y":336,"v":0.012},
{"x":16,"y":368,"v":0.005},{"x":48,"y":368,"v":-0.003},{"x":80,"y":368,"v":0.018},{"x":112,"y":368,"v":-0.005},{"x":144,"y":368,"v":0.003},{"x":176,"y":368,"v":-0.014},{"x":208,"y":368,"v":-0.003},{"x":240,"y":368,"v":0.025},{"x":272,"y":368,"v":-0.008},{"x":304,"y":368,"v":0},{"x":336,"y":368,"v":-0.016},{"x":368,"y":368,"v":0.008},{"x":400,"y":368,"v":-0.003},{"x":432,"y":368,"v":0.012},{"x":464,"y":368,"v":0.005},{"x":496,"y":368,"v":-0.01},
{"x":16,"y":400,"v":-0.003},{"x":48,"y":400,"v":0.018},{"x":80,"y":400,"v":-0.005},{"x":112,"y":400,"v":0.003},{"x":144,"y":400,"v":-0.014},{"x":176,"y":400,"v":-0.003},{"x":208,"y":400,"v":0.025},{"x":240,"y":400,"v":-0.008},{"x":272,"y":400,"v":0},{"x":304,"y":400,"v":-0.016},{"x":336,"y":400,"v":0.008},{"x":368,"y":400,"v":-0.003},{"x":400,"y":400,"v":0.012},{"x":432,"y":400,"v":0.005},{"x":464,"y":400,"v":-0.01},{"x":496,"y":400,"v":-0.003},
{"x":16,"y":432,"v":-0.005},{"x":48,"y":432,"v":0.003},{"x":80,"y":432,"v":-0.014},{"x":112,"y":432,"v":-0.003},{"x":144,"y":432,"v":0.014},{"x":176,"y":432,"v":-0.008},{"x":208,"y":432,"v":0},{"x":240,"y":432,"v":-0.016},{"x":272,"y":432,"v":0.008},{"x":304,"y":432,"v":-0.003},{"x":336,"y":432,"v":0.012},{"x":368,"y":432,"v":0.005},{"x":400,"y":432,"v":-0.01},{"x":432,"y":432,"v":-0.003},{"x":464,"y":432,"v":0.02},{"x":496,"y":432,"v":-0.005},
{"x":16,"y":464,"v":0.003},{"x":48,"y":464,"v":-0.014},{"x":80,"y":464,"v":-0.003},{"x":112,"y":464,"v":0.025},{"x":144,"y":464,"v":-0.008},{"x":176,"y":464,"v":0},{"x":208,"y":464,"v":-0.016},{"x":240,"y":464,"v":0.008},{"x":272,"y":464,"v":-0.003},{"x":304,"y":464,"v":0.012},{"x":336,"y":464,"v":0.005},{"x":368,"y":464,"v":-0.01},{"x":400,"y":464,"v":-0.003},{"x":432,"y":464,"v":0.02},{"x":464,"y":464,"v":-0.005},{"x":496,"y":464,"v":0.003},
{"x":16,"y":496,"v":-0.003},{"x":48,"y":496,"v":0.025},{"x":80,"y":496,"v":-0.008},{"x":112,"y":496,"v":0},{"x":144,"y":496,"v":-0.016},{"x":176,"y":496,"v":0.008},{"x":208,"y":496,"v":-0.003},{"x":240,"y":496,"v":0.012},{"x":272,"y":496,"v":0.005},{"x":304,"y":496,"v":-0.01},{"x":336,"y":496,"v":-0.003},{"x":368,"y":496,"v":0.02},{"x":400,"y":496,"v":-0.005},{"x":432,"y":496,"v":0.003},{"x":464,"y":496,"v":-0.018},{"x":496,"y":496,"v":0.008}
    ]
  },
  "vconcat": [
    {
      "hconcat": [
        {
          "width": 312, "height": 275,
          "title": {"text": "(a) 1级海况", "dx": 14, "offset": 2},
          "data": {"name": "a"},
          "encoding": {
            "x": {"field": "x", "type": "quantitative", "scale": {"domain": [0, 128], "nice": false, "zero": false}, "axis": {"values": [0, 20, 40, 60, 80, 100, 120], "title": "x/m", "titleX": 167, "titlePadding": 7}},
            "y": {"field": "y", "type": "quantitative", "scale": {"domain": [0, 128], "nice": false, "zero": false}, "axis": {"values": [0, 20, 40, 60, 80, 100, 120], "title": "y/m"}},
            "color": {"field": "v", "type": "quantitative",
              "scale": {"domain": [-0.0236, -0.017925, -0.01225, -0.006575, -0.0009, 0.004775, 0.01045, 0.016125, 0.0218], "range": ["#3e2f92", "#3b58d6", "#2d7ee0", "#1e9ed6", "#29b2c0", "#56bd9a", "#a0be69", "#e6b94a", "#f6e83d"], "interpolate": "rgb"},
              "legend": {"title": null, "offset": 8, "gradientLength": 275, "values": [-0.02, -0.015, -0.01, -0.005, 0, 0.005, 0.01, 0.015, 0.02], "labelExpr": "datum.value == 0 ? '0' : (datum.value < 0 ? '-' : '') + format(abs(datum.value), '.3f')", "encode": {"gradient": {"update": {"opacity": {"value": 1}}}}}}
          },
          "layer": [
            {"mark": {"type": "square", "clip": true}},
            {"mark": {"type": "circle", "size": 750, "opacity": 0.3, "clip": true}},
            {"mark": {"type": "circle", "size": 1500, "opacity": 0.14, "clip": true}}
          ]
        },
        {
          "hconcat": [
            {
              "width": 315, "height": 279,
              "title": {"text": "(b) 2级海况", "dx": 17, "offset": 2},
              "data": {"name": "b"},
              "encoding": {
                "x": {"field": "x", "type": "quantitative", "scale": {"domain": [0, 128], "nice": false, "zero": false}, "axis": {"values": [0, 20, 40, 60, 80, 100, 120], "title": "x/m", "titleX": 173, "titlePadding": 4}},
                "y": {"field": "y", "type": "quantitative", "scale": {"domain": [0, 128], "nice": false, "zero": false}, "axis": {"values": [0, 20, 40, 60, 80, 100, 120], "title": "y/m"}},
                "color": {"field": "v", "type": "quantitative",
                  "scale": {"domain": [-0.0305, -0.0226625, -0.014825, -0.0069875, 0.00085, 0.0086875, 0.016525, 0.0243625, 0.0322], "range": ["#3e2f92", "#3b58d6", "#2d7ee0", "#1e9ed6", "#29b2c0", "#56bd9a", "#a0be69", "#e6b94a", "#f6e83d"], "interpolate": "rgb"},
                  "legend": {"title": null, "offset": 9, "gradientLength": 279, "values": [-0.03, -0.02, -0.01, 0, 0.01, 0.02, 0.03], "labelExpr": "datum.value == 0 ? '0' : (datum.value < 0 ? '-' : '') + format(abs(datum.value), '.2f')", "encode": {"gradient": {"update": {"opacity": {"value": 1}}}}}}
              },
              "layer": [
                {"mark": {"type": "square", "clip": true}},
                {"mark": {"type": "circle", "size": 750, "opacity": 0.3, "clip": true}},
                {"mark": {"type": "circle", "size": 1500, "opacity": 0.14, "clip": true}}
              ]
            },
            {
              "width": 311, "height": 274,
              "title": {"text": "(c) 3级海况", "dx": 15, "offset": 2},
              "data": {"name": "c"},
              "encoding": {
                "x": {"field": "x", "type": "quantitative", "scale": {"domain": [0, 128], "nice": false, "zero": false}, "axis": {"values": [0, 20, 40, 60, 80, 100, 120], "title": "x/m", "titleX": 171, "titlePadding": 7}},
                "y": {"field": "y", "type": "quantitative", "scale": {"domain": [0, 128], "nice": false, "zero": false}, "axis": {"values": [0, 20, 40, 60, 80, 100, 120], "title": "y/m"}},
                "color": {"field": "v", "type": "quantitative",
                  "scale": {"domain": [-0.0251, -0.018375, -0.01165, -0.004925, 0.0018, 0.008525, 0.01525, 0.021975, 0.0287], "range": ["#3e2f92", "#3b58d6", "#2d7ee0", "#1e9ed6", "#29b2c0", "#56bd9a", "#a0be69", "#e6b94a", "#f6e83d"], "interpolate": "rgb"},
                  "legend": {"title": null, "offset": 8, "gradientLength": 274, "labelFontSize": 25, "values": [-0.025, -0.02, -0.015, -0.01, -0.005, 0, 0.005, 0.01, 0.015, 0.02, 0.025], "labelExpr": "datum.value == 0 ? '0' : (datum.value < 0 ? '-' : '') + format(abs(datum.value), '.3f')", "encode": {"gradient": {"update": {"opacity": {"value": 1}}}}}}
              },
              "layer": [
                {"mark": {"type": "square", "clip": true}},
                {"mark": {"type": "circle", "size": 750, "opacity": 0.3, "clip": true}},
                {"mark": {"type": "circle", "size": 1500, "opacity": 0.14, "clip": true}}
              ]
            }
          ],
          "spacing": 23,
          "resolve": {"scale": {"color": "independent"}, "legend": {"color": "independent"}}
        }
      ],
      "spacing": 18,
      "resolve": {"scale": {"color": "independent"}, "legend": {"color": "independent"}}
    },
    {
      "hconcat": [
        {
          "width": 315, "height": 277,
          "title": {"text": "(d) 4级海况", "dx": 4, "offset": 8},
          "data": {"name": "d"},
          "encoding": {
            "x": {"field": "x", "type": "quantitative", "scale": {"domain": [0, 128], "nice": false, "zero": false}, "axis": {"values": [0, 20, 40, 60, 80, 100, 120], "title": "x/m", "titleX": 159, "titlePadding": 3}},
            "y": {"field": "y", "type": "quantitative", "scale": {"domain": [0, 128], "nice": false, "zero": false}, "axis": {"values": [0, 20, 40, 60, 80, 100, 120], "title": "y/m"}},
            "color": {"field": "v", "type": "quantitative",
              "scale": {"domain": [-0.0263, -0.019025, -0.01175, -0.004475, 0.0028, 0.010075, 0.01735, 0.024625, 0.0319], "range": ["#3e2f92", "#3b58d6", "#2d7ee0", "#1e9ed6", "#29b2c0", "#56bd9a", "#a0be69", "#e6b94a", "#f6e83d"], "interpolate": "rgb"},
              "legend": {"title": null, "offset": 10, "gradientLength": 277, "values": [-0.02, -0.01, 0, 0.01, 0.02, 0.03], "labelExpr": "datum.value == 0 ? '0' : (datum.value < 0 ? '-' : '') + format(abs(datum.value), '.2f')", "encode": {"gradient": {"update": {"opacity": {"value": 1}}}}}}
          },
          "layer": [
            {"mark": {"type": "square", "clip": true}},
            {"mark": {"type": "circle", "size": 750, "opacity": 0.3, "clip": true}},
            {"mark": {"type": "circle", "size": 1500, "opacity": 0.14, "clip": true}}
          ]
        },
        {
          "hconcat": [
            {
              "width": 313, "height": 277,
              "title": {"text": "(e) 5级海况", "dx": 10, "offset": 8},
              "data": {"name": "e"},
              "encoding": {
                "x": {"field": "x", "type": "quantitative", "scale": {"domain": [0, 512], "nice": false, "zero": false}, "axis": {"values": [0, 100, 200, 300, 400, 500], "title": "x/m", "titleX": 166, "titlePadding": 3}},
                "y": {"field": "y", "type": "quantitative", "scale": {"domain": [0, 512], "nice": false, "zero": false}, "axis": {"values": [0, 50, 100, 150, 200, 250, 300, 350, 400, 450, 500], "title": "y/m", "labelFlush": false}},
                "color": {"field": "v", "type": "quantitative",
                  "scale": {"domain": [-0.0355, -0.0268375, -0.018175, -0.0095125, -0.00085, 0.0078125, 0.016475, 0.0251375, 0.0338], "range": ["#3e2f92", "#3b58d6", "#2d7ee0", "#1e9ed6", "#29b2c0", "#56bd9a", "#a0be69", "#e6b94a", "#f6e83d"], "interpolate": "rgb"},
                  "legend": {"title": null, "offset": 11, "gradientLength": 277, "values": [-0.03, -0.02, -0.01, 0, 0.01, 0.02, 0.03], "labelExpr": "datum.value == 0 ? '0' : (datum.value < 0 ? '-' : '') + format(abs(datum.value), '.2f')", "encode": {"gradient": {"update": {"opacity": {"value": 1}}}}}}
              },
              "layer": [
                {"mark": {"type": "square", "clip": true}},
                {"mark": {"type": "circle", "size": 750, "opacity": 0.3, "clip": true}},
                {"mark": {"type": "circle", "size": 1500, "opacity": 0.14, "clip": true}}
              ]
            },
            {
              "width": 313, "height": 278,
              "title": {"text": "(f) 6级海况", "dx": 4, "offset": 8},
              "data": {"name": "f"},
              "encoding": {
                "x": {"field": "x", "type": "quantitative", "scale": {"domain": [0, 512], "nice": false, "zero": false}, "axis": {"values": [0, 100, 200, 300, 400, 500], "title": "x/m", "titleX": 161, "titlePadding": 3}},
                "y": {"field": "y", "type": "quantitative", "scale": {"domain": [0, 512], "nice": false, "zero": false}, "axis": {"values": [0, 50, 100, 150, 200, 250, 300, 350, 400, 450, 500], "title": "y/m", "labelFlush": false}},
                "color": {"field": "v", "type": "quantitative",
                  "scale": {"domain": [-0.0353, -0.0266, -0.0179, -0.0092, -0.0005, 0.0082, 0.0169, 0.0256, 0.0343], "range": ["#3e2f92", "#3b58d6", "#2d7ee0", "#1e9ed6", "#29b2c0", "#56bd9a", "#a0be69", "#e6b94a", "#f6e83d"], "interpolate": "rgb"},
                  "legend": {"title": null, "offset": 11, "gradientLength": 278, "values": [-0.03, -0.02, -0.01, 0, 0.01, 0.02, 0.03], "labelExpr": "datum.value == 0 ? '0' : (datum.value < 0 ? '-' : '') + format(abs(datum.value), '.2f')", "encode": {"gradient": {"update": {"opacity": {"value": 1}}}}}}
              },
              "layer": [
                {"mark": {"type": "square", "clip": true}},
                {"mark": {"type": "circle", "size": 750, "opacity": 0.3, "clip": true}},
                {"mark": {"type": "circle", "size": 1500, "opacity": 0.14, "clip": true}}
              ]
            }
          ],
          "spacing": 18,
          "resolve": {"scale": {"color": "independent"}, "legend": {"color": "independent"}}
        }
      ],
      "spacing": 27,
      "resolve": {"scale": {"color": "independent"}, "legend": {"color": "independent"}}
    }
  ],
  "spacing": 12,
  "resolve": {"scale": {"color": "independent"}, "legend": {"color": "independent"}}
}
